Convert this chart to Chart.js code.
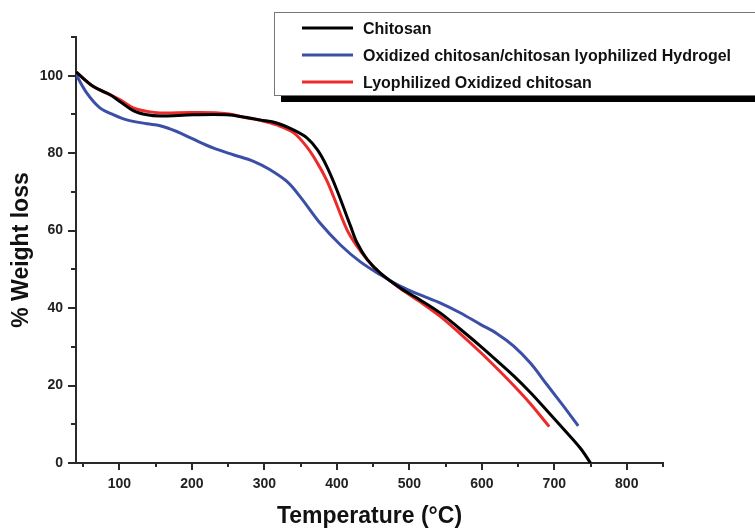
<!DOCTYPE html>
<html>
<head>
<meta charset="utf-8">
<script src="https://cdn.jsdelivr.net/npm/chart.js@4.4.1/dist/chart.umd.min.js"></script>
<style>
  html, body { margin: 0; padding: 0; background: #fff; }
  canvas { display: block; }
</style>
</head>
<body>
<canvas id="tga" width="755" height="530"></canvas>
<script>
// values
var seriesNames = ["Chitosan", "Oxidized chitosan/chitosan lyophilized Hydrogel", "Lyophilized Oxidized chitosan"];

var chitosanT = [40, 64, 87, 101, 119, 138, 156, 202, 248, 276, 294, 317, 340, 359, 373, 386, 400, 419, 428, 442, 460, 488, 515, 543, 570, 598, 621, 644, 667, 690, 713, 736, 750];
var chitosanW = [101, 97.2, 95.1, 93.3, 91.0, 89.9, 89.6, 89.9, 89.9, 89.2, 88.6, 87.8, 86.0, 83.9, 80.9, 76.6, 70.5, 61.1, 56.8, 52.5, 49.0, 45.1, 42.1, 38.7, 34.6, 30.2, 26.4, 22.5, 18.2, 13.5, 8.7, 3.8, 0];

var hydrogelT = [40, 55, 73, 92, 110, 138, 156, 179, 202, 230, 257, 285, 308, 331, 350, 377, 405, 432, 460, 488, 515, 543, 570, 598, 621, 644, 667, 690, 713, 733];
var hydrogelW = [100.3, 95.5, 91.7, 89.9, 88.6, 87.6, 87.1, 85.6, 83.6, 81.3, 79.6, 77.9, 75.7, 72.7, 68.6, 61.9, 56.3, 52.0, 48.6, 45.6, 43.4, 41.3, 38.8, 35.8, 33.4, 30.2, 25.8, 20.2, 14.6, 9.6];

var oxidizedT = [40, 64, 87, 101, 119, 138, 156, 202, 248, 276, 294, 317, 340, 359, 373, 386, 396, 414, 428, 442, 460, 488, 515, 543, 570, 598, 621, 644, 667, 693];
var oxidizedW = [101, 97.2, 95.1, 93.8, 91.7, 90.8, 90.4, 90.5, 90.2, 89.1, 88.5, 87.3, 85.3, 81.5, 77.5, 73.0, 68.5, 60.2, 55.9, 52.5, 49.0, 45.0, 41.6, 37.8, 33.4, 28.6, 24.4, 20.0, 15.3, 9.4];

var xMajor = [100, 200, 300, 400, 500, 600, 700, 800];
var xMinor = [50, 150, 250, 350, 450, 550, 650, 750, 850];
var yMajor = [0, 20, 40, 60, 80, 100];
var yMinor = [10, 30, 50, 70, 90, 110];

var colors = ["#000000", "#3b4fa6", "#ee2b2b"];
var fontFam = "'Liberation Sans', Arial, sans-serif";
var axisColor = "#2a2a2a";

function toPoints(xs, ys) {
    return xs.map(function (x, i) { return { x: x, y: ys[i] }; });
}

function line(label, xs, ys, color) {
    return {
        label: label,
        data: toPoints(xs, ys),
        borderColor: color,
        backgroundColor: color,
        borderWidth: 3,
        pointRadius: 0,
        tension: 0.35,
        fill: false
    };
}

// tick marks: long for major, short for minor
var tickMarks = {
    id: "tickMarks",
    afterDraw: function (chart) {
        var ctx = chart.ctx, xs = chart.scales.x, ys = chart.scales.y;
        var left = chart.chartArea.left, bottom = chart.chartArea.bottom;
        ctx.save();
        ctx.strokeStyle = axisColor;
        ctx.lineWidth = 2;
        ctx.beginPath();
        xMajor.forEach(function (v) {
            var p = Math.round(xs.getPixelForValue(v));
            ctx.moveTo(p, bottom); ctx.lineTo(p, bottom + 7);
        });
        xMinor.forEach(function (v) {
            var p = Math.round(xs.getPixelForValue(v));
            ctx.moveTo(p, bottom); ctx.lineTo(p, bottom + 4);
        });
        yMajor.forEach(function (v) {
            var p = Math.round(ys.getPixelForValue(v));
            ctx.moveTo(left, p); ctx.lineTo(left - 8, p);
        });
        yMinor.forEach(function (v) {
            var p = Math.round(ys.getPixelForValue(v));
            ctx.moveTo(left, p); ctx.lineTo(left - 5, p);
        });
        ctx.stroke();
        ctx.restore();
    }
};

// boxed legend with a dark drop shadow, sitting over the top right
var boxLegend = {
    id: "boxLegend",
    afterDraw: function (chart) {
        var ctx = chart.ctx;
        ctx.save();
        ctx.fillStyle = "#000";
        ctx.fillRect(281, 96, 480, 6);
        ctx.fillStyle = "#fff";
        ctx.fillRect(274, 12, 490, 83);
        ctx.strokeStyle = "#777";
        ctx.lineWidth = 1;
        ctx.strokeRect(274.5, 12.5, 490, 83);
        var rows = [28, 55, 82];
        chart.data.datasets.forEach(function (ds, i) {
            ctx.strokeStyle = ds.borderColor;
            ctx.lineWidth = 3;
            ctx.beginPath();
            ctx.moveTo(302, rows[i]);
            ctx.lineTo(353, rows[i]);
            ctx.stroke();
            ctx.fillStyle = "#111";
            ctx.font = "bold 16px " + fontFam;
            ctx.textBaseline = "middle";
            ctx.fillText(ds.label, 363, rows[i] + 2);
        });
        ctx.restore();
    }
};

new Chart(document.getElementById("tga"), {
    type: "line",
    data: {
        datasets: [
            line(seriesNames[0], chitosanT, chitosanW, colors[0]),
            line(seriesNames[1], hydrogelT, hydrogelW, colors[1]),
            line(seriesNames[2], oxidizedT, oxidizedW, colors[2])
        ]
    },
    options: {
        responsive: false,
        animation: false,
        layout: { padding: { top: 37, right: 92, left: 0, bottom: 0 } },
        plugins: {
            legend: { display: false },
            tooltip: { enabled: false }
        },
        scales: {
            x: {
                type: "linear",
                min: 40,
                max: 850,
                afterFit: function (s) { s.height = 67; },
                afterBuildTicks: function (s) {
                    s.ticks = xMajor.map(function (v) { return { value: v }; });
                },
                grid: { display: true, drawOnChartArea: false, drawTicks: false },
                border: { display: true, color: axisColor, width: 2 },
                ticks: {
                    color: "#222",
                    padding: 13,
                    maxRotation: 0,
                    font: { family: fontFam, size: 14, weight: "bold" }
                },
                title: {
                    display: true,
                    text: "Temperature (°C)",
                    color: "#111",
                    padding: { top: 0, bottom: 0 },
                    font: { family: fontFam, size: 23, weight: "bold" }
                }
            },
            y: {
                type: "linear",
                min: 0,
                max: 110,
                afterFit: function (s) { s.width = 76; },
                afterBuildTicks: function (s) {
                    s.ticks = yMajor.map(function (v) { return { value: v }; });
                },
                grid: { display: true, drawOnChartArea: false, drawTicks: false },
                border: { display: true, color: axisColor, width: 2 },
                ticks: {
                    color: "#222",
                    padding: 13,
                    font: { family: fontFam, size: 14, weight: "bold" }
                },
                title: {
                    display: true,
                    text: "% Weight loss",
                    color: "#111",
                    padding: { top: 8, bottom: 0 },
                    font: { family: fontFam, size: 23, weight: "bold" }
                }
            }
        }
    },
    plugins: [tickMarks, boxLegend]
});
</script>
</body>
</html>
